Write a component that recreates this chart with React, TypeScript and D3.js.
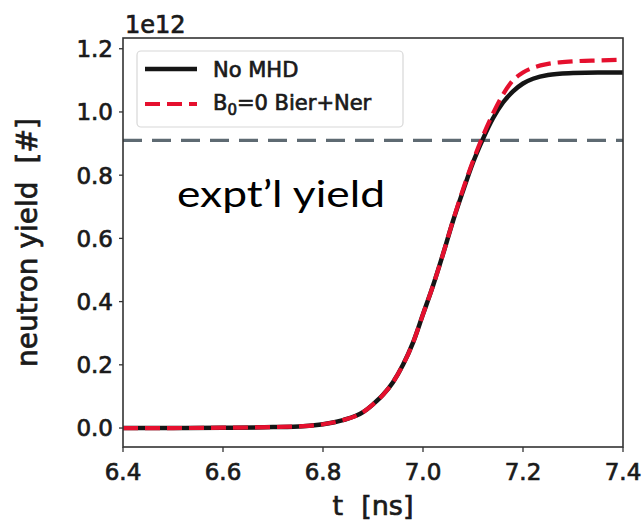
import React from 'react';
import * as d3 from 'd3';

const tValues = [6.40, 6.50, 6.60, 6.70, 6.76, 6.80, 6.84, 6.88, 6.90, 6.92, 6.94, 6.96, 6.98, 7.00, 7.02, 7.04, 7.06, 7.08, 7.10, 7.12, 7.14, 7.16, 7.18, 7.20, 7.22, 7.25, 7.30, 7.35, 7.40];
const noMHD = [0, 0, 0.001, 0.003, 0.006, 0.012, 0.025, 0.05, 0.075, 0.105, 0.145, 0.2, 0.27, 0.36, 0.45, 0.55, 0.655, 0.75, 0.84, 0.915, 0.98, 1.03, 1.065, 1.09, 1.105, 1.117, 1.123, 1.125, 1.125];
const bierNer = [0, 0, 0.001, 0.003, 0.006, 0.012, 0.025, 0.05, 0.075, 0.105, 0.145, 0.2, 0.27, 0.36, 0.45, 0.55, 0.657, 0.755, 0.845, 0.925, 0.995, 1.055, 1.1, 1.125, 1.14, 1.152, 1.16, 1.163, 1.165];
const exptYield = 0.91;
const xTicks = [6.4, 6.6, 6.8, 7.0, 7.2, 7.4];
const yTicks = [0.0, 0.2, 0.4, 0.6, 0.8, 1.0, 1.2];

const W = 644, H = 524;
const L = 123, R = 623, T = 38, B = 447;
const FONT = "'DejaVu Sans', sans-serif";
const TXT = '#1a1a1a';
const bold = { stroke: TXT, strokeWidth: 0.7 } as const;

export default function App() {
  const x = d3.scaleLinear().domain([6.4, 7.4]).range([L, R]);
  const y = d3.scaleLinear().domain([-0.06, 1.234]).range([B, T]);
  const line = d3.line<number>()
    .x((_, i) => x(tValues[i]))
    .y((d) => y(d))
    .curve(d3.curveMonotoneX);
  const black = '#151515';
  const red = '#e5102e';
  const gray = '#5e6a72';
  return (
    <svg width={W} height={H} style={{ position: 'absolute', left: 0, top: 0, background: '#fff' }}>
      <defs>
        <clipPath id="plot"><rect x={L} y={T} width={R - L} height={B - T} /></clipPath>
      </defs>
      <g clipPath="url(#plot)">
        <line x1={L} x2={R} y1={y(exptYield)} y2={y(exptYield)} stroke={gray} strokeWidth={3.2} strokeDasharray="19,10" />
        <path d={line(noMHD) || ''} fill="none" stroke={black} strokeWidth={4.5} />
        <path d={line(bierNer) || ''} fill="none" stroke={red} strokeWidth={4.2} strokeDasharray="15,7" />
      </g>
      <rect x={L} y={T} width={R - L} height={B - T} fill="none" stroke="#333" strokeWidth={1.6} />
      {yTicks.map((v) => (
        <g key={'y' + v}>
          <line x1={L - 4} x2={L} y1={y(v)} y2={y(v)} stroke="#333" strokeWidth={1.3} />
          <text x={113} y={y(v) + 8.4} textAnchor="end" fontFamily={FONT} fontSize={23} fill={TXT} {...bold}>{v.toFixed(1)}</text>
        </g>
      ))}
      {xTicks.map((v) => (
        <g key={'x' + v}>
          <line x1={x(v)} x2={x(v)} y1={B} y2={B + 5} stroke="#333" strokeWidth={1.3} />
          <text x={x(v)} y={480} textAnchor="middle" fontFamily={FONT} fontSize={23} fill={TXT} {...bold}>{v.toFixed(1)}</text>
        </g>
      ))}
      <text x={125} y={33} fontFamily={FONT} fontSize={24} fill={TXT} {...bold}>1e12</text>
      <text x={(L + R) / 2} y={515} textAnchor="middle" fontFamily={FONT} fontSize={27} fill={TXT} {...bold}>t<tspan dx={18}>[ns]</tspan></text>
      <text transform={`translate(37, ${(T + B) / 2}) rotate(-90)`} textAnchor="middle" fontFamily={FONT} fontSize={28} fill={TXT} {...bold}>neutron yield<tspan dx={18}>[#]</tspan></text>
      <text x={177} y={207} fontFamily="Lato, 'Open Sans', sans-serif" fontSize={36} fill="#000" textLength={208} lengthAdjust="spacingAndGlyphs">expt’l yield</text>
      <g>
        <rect x={137} y={51} width={266} height={76} rx={4} fill="#fff" fillOpacity={0.85} stroke="#d8d8d8" strokeWidth={1.2} />
        <line x1={145} x2={197} y1={69} y2={69} stroke={black} strokeWidth={4.5} />
        <text x={213} y={77} fontFamily={FONT} fontSize={21} fill={TXT} {...bold}>No MHD</text>
        <line x1={145} x2={197} y1={104} y2={104} stroke={red} strokeWidth={4.2} strokeDasharray="15,7" />
        <text x={213} y={110} fontFamily={FONT} fontSize={21} fill={TXT} {...bold}>B<tspan fontSize={15} dy={5}>0</tspan><tspan dy={-5}>=0 Bier+Ner</tspan></text>
      </g>
    </svg>
  );
}
